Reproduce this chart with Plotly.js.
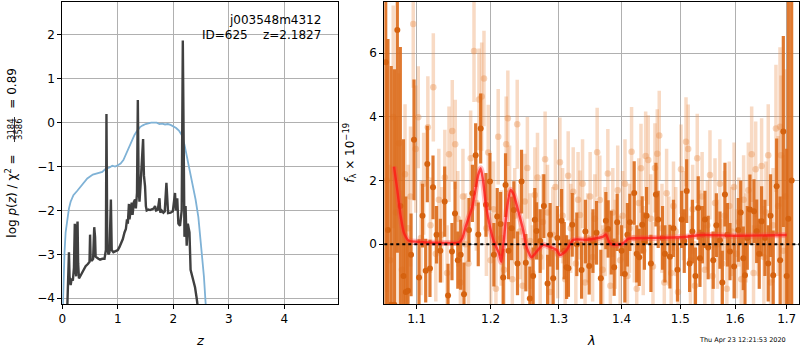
<!DOCTYPE html>
<html><head><meta charset="utf-8">
<script src="https://cdn.plot.ly/plotly-3.0.1.min.js"></script>
<style>html,body{margin:0;padding:0;background:#fff}#chart{width:800px;height:350px}</style>
</head><body><div id="chart"></div>
<script>
// ---- left panel: redshift probability curves ----
const priorZ = [0.01,0.02,0.04,0.06,0.09,0.12,0.15,0.2,0.27,0.35,0.45,0.55,0.65,0.72,0.78,0.85,0.9,0.95,1.0,1.05,1.1,1.15,1.2,1.25,1.3,1.35,1.4,1.45,1.5,1.6,1.7,1.75,1.8,1.85,1.9,1.95,2.0,2.05,2.1,2.15,2.2,2.25,2.3,2.35,2.4,2.45,2.5,2.55,2.58,2.6];
const priorLogP = [-4.2,-3.5,-2.95,-2.5,-2.15,-1.95,-1.8,-1.65,-1.55,-1.42,-1.27,-1.18,-1.15,-1.12,-1.05,-1.02,-0.98,-1.0,-0.97,-0.93,-0.85,-0.7,-0.55,-0.4,-0.28,-0.18,-0.1,-0.06,-0.03,0.0,0.0,-0.03,-0.02,-0.04,-0.03,-0.05,-0.08,-0.12,-0.18,-0.28,-0.5,-0.8,-1.12,-1.45,-1.75,-2.15,-2.75,-3.5,-4.1,-4.4];

const pzZ = [0.09,0.105,0.12,0.13,0.15,0.17,0.19,0.21,0.225,0.235,0.25,0.265,0.275,0.285,0.3,0.33,0.36,0.39,0.42,0.46,0.49,0.5,0.51,0.53,0.555,0.575,0.59,0.6,0.62,0.65,0.68,0.72,0.76,0.785,0.795,0.81,0.83,0.85,0.875,0.89,0.92,0.96,1.0,1.03,1.06,1.09,1.12,1.145,1.165,1.18,1.2,1.21,1.23,1.25,1.265,1.29,1.31,1.325,1.345,1.36,1.375,1.39,1.41,1.43,1.455,1.47,1.49,1.505,1.52,1.55,1.58,1.62,1.65,1.67,1.69,1.72,1.75,1.765,1.79,1.82,1.845,1.875,1.89,1.905,1.95,1.99,2.03,2.045,2.07,2.09,2.12,2.15,2.17,2.185,2.2,2.22,2.24,2.26,2.29,2.31,2.33,2.36,2.39,2.42,2.45];
const pzLogP = [-4.2,-3.6,-2.95,-3.5,-3.7,-3.55,-3.6,-3.3,-2.3,-3.3,-3.5,-2.4,-2.25,-3.2,-3.55,-3.48,-3.4,-3.33,-3.27,-3.22,-3.17,-2.55,-3.1,-3.15,-3.1,-2.38,-2.6,-3.05,-3.08,-3.1,-3.12,-3.1,-3.1,-2.9,0.2,-2.8,-3.0,-2.95,-1.75,-2.9,-2.95,-2.93,-2.9,-2.83,-2.75,-2.65,-2.5,-2.42,-2.2,-2.3,-1.85,-2.2,-2.0,-1.82,-2.1,-1.8,-1.75,-1.95,-1.6,0.52,-1.5,-1.8,-1.4,-1.0,-0.37,-1.2,-1.45,-1.9,-2.0,-1.98,-1.99,-1.97,-1.95,-1.9,-2.0,-1.98,-1.72,-2.05,-2.0,-2.05,-2.02,-1.37,-1.9,-2.06,-2.05,-2.02,-1.6,-2.0,-1.72,-2.3,-2.35,-2.0,1.87,-1.2,-2.6,-1.9,-2.8,-2.3,-2.5,-3.35,-3.45,-3.6,-3.75,-4.0,-4.3];

const zTicks = [0,1,2,3,4];
const logpTicks = [-4,-3,-2,-1,0,1,2];

// ---- right panel: spectrum (dark = primary grism, light = second set) ----
const gLam = [
 1.0606,1.0634,1.0675,1.0715,1.0752,1.0790,1.0830,1.0860,1.0888,1.0927,
 1.0965,1.1030,1.1075,1.1117,1.1138,1.1173,1.1213,1.1260,1.1310,1.1368,
 1.1413,1.1466,1.1507,1.1545,1.1584,1.1629,1.1697,1.1745,1.1790,1.1826,
 1.1860,1.1934,1.1990,1.2046,1.2093,1.2141,1.2178,1.2212,1.2255,1.2299,
 1.2332,1.2385,1.2444,1.2507,1.2566,1.2615,1.2640,1.2666,1.2720,1.2775,
 1.2831,1.2870,1.2916,1.2980,1.3045,1.3085,1.3122,1.3150,1.3209,1.3280,
 1.3355,1.3415,1.3475,1.3535,1.3592,1.3661,1.3742,1.3779,1.3830,1.3877,
 1.3926,1.3998,1.4052,1.4095,1.4136,1.4208,1.4250,1.4292,1.4342,1.4380,
 1.4417,1.4490,1.4576,1.4615,1.4690,1.4731,1.4818,1.4880,1.4950,1.5024,
 1.5070,1.5113,1.5165,1.5215,1.5270,1.5320,1.5351,1.5395,1.5441,1.5500,
 1.5593,1.5650,1.5716,1.5760,1.5809,1.5855,1.5903,1.5980,1.6059,1.6105,
 1.6154,1.6186,1.6230,1.6281,1.6358,1.6410,1.6460,1.6506,1.6570,1.6635,
 1.6680,1.6733,1.6801,1.6870,1.6933,1.7000,1.7034,1.7100];
const gFlux = [
 5.72,0.45,-1.9,-1.9,6.73,1.2,-1.0,-1.5,-1.46,-0.33,
 3.28,-1.04,0.9,-0.83,2.52,-0.76,1.79,0.3,-0.2,1.34,
 -1.61,-0.23,0.97,-0.5,-0.33,-1.57,0.45,1.6,2.8,0.31,
 3.64,1.24,1.97,-0.33,0.87,0.64,-1.04,1.86,-0.2,0.5,
 1.08,-0.6,1.97,-0.58,-1.7,-1.0,0.77,0.42,0.1,1.2,
 -1.23,0.3,-1.07,0.2,0.74,-0.2,-0.72,-0.75,0.61,0.0,
 -0.81,0.4,-0.68,0.1,0.36,-1.07,0.74,0.48,0.05,-0.72,
 0.69,-0.2,-0.93,0.3,0.69,1.61,-0.3,-0.41,0.61,0.1,
 0.9,-0.6,1.56,0.78,0.2,-0.3,-0.39,0.5,-0.8,0.78,
 0.1,1.67,-0.6,0.4,-1.0,1.14,-0.44,0.3,0.78,-0.1,
 -0.5,0.6,0.13,-1.2,1.56,0.3,-0.23,-0.7,0.45,1.0,
 -0.44,-0.97,0.2,1.09,1.04,0.41,-0.3,0.72,0.2,-0.6,
 0.9,-0.97,1.82,-0.5,3.54,-1.0,0.8,2.0];
const gErr = [
 9,6,7.5,7.4,7,5,4.3,3.0,1.6,1.3,
 1.9,1.2,1.0,1.0,1.2,0.9,1.0,0.9,1.0,1.1,
 1.0,0.9,1.0,0.9,1.1,1.0,1.0,0.9,1.0,1.0,
 1.1,1.0,0.9,1.0,0.9,1.0,0.9,1.0,0.9,1.0,
 0.9,1.0,1.0,0.9,1.0,0.9,1.0,0.9,1.0,1.0,
 0.9,1.0,0.9,1.0,1.0,0.9,1.0,0.9,1.0,1.0,
 0.9,1.0,0.9,1.0,1.0,0.9,0.9,0.9,1.0,0.9,
 0.9,0.8,0.9,1.0,0.9,1.0,0.9,0.9,0.9,0.9,
 0.9,0.9,1.0,0.9,1.0,0.9,1.0,0.9,1.0,0.9,
 1.0,1.0,0.9,1.0,0.9,1.0,0.9,0.9,0.9,1.0,
 0.9,1.0,0.9,1.0,1.0,1.0,0.9,1.0,1.0,1.0,
 1.0,1.0,1.0,1.1,1.0,1.0,1.1,1.1,1.2,1.2,
 1.3,1.4,1.5,2.0,3.0,4.0,7.0,8.0];

const lLam = [
 1.0620,1.0660,1.0700,1.0735,1.0773,1.0810,1.0850,1.0890,1.0920,1.0955,
 1.0987,1.1020,1.1055,1.1090,1.1145,1.1180,1.1217,1.1250,1.1290,1.1330,
 1.1370,1.1400,1.1426,1.1470,1.1510,1.1545,1.1580,1.1615,1.1650,1.1690,
 1.1721,1.1767,1.1800,1.1836,1.1874,1.1906,1.1940,1.1966,1.2000,1.2040,
 1.2075,1.2107,1.2150,1.2190,1.2221,1.2245,1.2270,1.2310,1.2345,1.2381,
 1.2420,1.2460,1.2492,1.2530,1.2570,1.2605,1.2640,1.2680,1.2720,1.2760,
 1.2794,1.2830,1.2870,1.2910,1.2950,1.2985,1.3019,1.3060,1.3100,1.3146,
 1.3185,1.3224,1.3265,1.3300,1.3329,1.3370,1.3410,1.3450,1.3490,1.3530,
 1.3565,1.3602,1.3645,1.3690,1.3730,1.3774,1.3815,1.3855,1.3895,1.3935,
 1.3975,1.4015,1.4055,1.4095,1.4130,1.4164,1.4210,1.4250,1.4285,1.4322,
 1.4360,1.4401,1.4445,1.4490,1.4525,1.4559,1.4599,1.4633,1.4680,1.4720,
 1.4760,1.4800,1.4840,1.4880,1.4920,1.4960,1.5012,1.5055,1.5101,1.5140,
 1.5180,1.5220,1.5260,1.5302,1.5345,1.5390,1.5440,1.5485,1.5533,1.5580,
 1.5625,1.5670,1.5715,1.5760,1.5800,1.5845,1.5890,1.5935,1.5980,1.6025,
 1.6070,1.6115,1.6160,1.6205,1.6250,1.6314,1.6350,1.6391,1.6440,1.6506,
 1.6550,1.6590,1.6635,1.6680,1.6730,1.6787,1.6830,1.6867,1.6887,1.6930,1.6970];
const lFlux = [
 2.0,-0.5,4.0,1.0,3.17,-0.8,2.2,0.5,1.5,6.92,
 2.99,3.99,0.2,1.9,3.68,0.6,4.93,-0.3,1.4,0.3,
 2.1,-0.9,2.83,3.56,3.14,0.8,-1.2,1.5,0.0,-0.6,
 2.7,6.07,1.3,4.55,4.64,5.21,0.5,2.88,-0.5,1.1,
 -1.4,3.38,0.2,-0.8,3.14,3.96,1.6,-1.1,0.9,3.77,
 0.4,-1.3,1.34,2.4,0.1,-0.9,1.55,2.1,-0.4,0.7,
 2.67,1.0,-1.5,0.3,1.8,-0.3,2.58,0.9,-1.1,2.15,
 0.5,1.65,-0.6,1.4,0.92,1.9,-1.2,0.2,1.5,-0.4,
 0.8,2.89,1.39,-0.8,0.4,2.22,-1.3,1.0,0.0,1.7,
 -0.5,0.9,1.9,-1.0,0.5,2.91,0.2,-1.4,1.3,2.39,
 -0.2,2.77,2.65,0.8,-0.7,2.4,2.84,3.42,0.5,-1.2,
 1.6,0.1,-0.9,1.2,0.4,-1.5,2.36,0.9,3.22,2.99,
 -0.5,1.1,-1.3,2.7,0.3,1.5,-0.8,0.6,2.18,-1.0,
 1.3,0.0,1.9,-0.6,0.9,-1.4,1.2,0.4,1.8,-0.3,
 0.7,-1.1,1.4,0.2,1.7,2.83,-0.9,2.36,0.5,2.46,
 -0.4,1.0,2.8,-1.2,0.6,3.64,1.2,3.69,2.8,-0.2,1.5];
const lErr = [
 3.5,3.0,3.5,3.0,2.2,2.5,2.2,2.0,2.2,2.0,
 2.0,1.6,1.8,1.6,1.6,1.5,1.7,1.5,1.6,1.5,
 1.5,1.5,1.5,1.6,1.4,1.5,1.5,1.5,1.6,1.5,
 1.5,1.6,1.5,1.6,1.7,1.5,1.5,1.5,1.5,1.5,
 1.5,1.5,1.5,1.5,1.5,1.5,1.5,1.5,1.5,1.4,
 1.5,1.5,1.5,1.6,1.5,1.5,1.5,1.4,1.5,1.5,
 1.5,1.5,1.4,1.5,1.5,1.4,1.4,1.5,1.4,1.4,
 1.4,1.4,1.4,1.5,1.4,1.4,1.4,1.4,1.4,1.4,
 1.4,1.4,1.4,1.4,1.4,1.4,1.4,1.4,1.4,1.4,
 1.4,1.4,1.4,1.4,1.4,1.4,1.4,1.4,1.4,1.4,
 1.4,1.4,1.4,1.4,1.4,1.4,1.4,1.4,1.4,1.4,
 1.4,1.4,1.4,1.4,1.4,1.4,1.4,1.4,1.4,1.4,
 1.4,1.4,1.4,1.4,1.4,1.4,1.4,1.4,1.4,1.4,
 1.4,1.4,1.4,1.4,1.4,1.4,1.4,1.4,1.4,1.4,
 1.4,1.4,1.4,1.4,1.5,1.5,1.5,1.5,1.5,1.5,
 1.6,1.6,1.6,1.7,1.8,2.0,2.2,2.5,2.5,3.0,4.0];

const modelLam = [1.0710,1.0752,1.0795,1.0837,1.0900,1.1007,1.1226,1.1561,1.1606,1.1652,1.1743,1.1826,1.1860,1.1892,1.1930,1.1990,1.2046,1.2117,1.2150,1.2188,1.2236,1.2285,1.2332,1.2405,1.2467,1.2517,1.2591,1.2666,1.2764,1.2865,1.2968,1.3019,1.3122,1.3225,1.3434,1.3592,1.3698,1.3742,1.3807,1.3917,1.4025,1.4108,1.4472,1.4995,1.5411,1.6029,1.7001];
const modelFlux = [2.44,1.7,0.87,0.35,0.11,0.08,0.05,0.06,0.19,0.55,1.18,2.18,2.39,2.02,1.29,0.55,0.08,-0.28,-0.55,0.14,1.18,1.71,1.55,0.97,0.45,-0.08,-0.41,-0.23,-0.02,-0.08,-0.18,-0.34,-0.18,0.14,0.14,0.19,0.24,0.31,0.03,-0.02,0.03,0.17,0.2,0.22,0.29,0.27,0.29];

const lamTicks = [1.1,1.2,1.3,1.4,1.5,1.6,1.7];
const fluxTicks = [0,2,4,6];

const FONT = 'DejaVu Sans, Arial, sans-serif';
const NB = '\u00a0';

const traces = [
  {x: priorZ, y: priorLogP, xaxis:'x', yaxis:'y', mode:'lines', line:{color:'#7fb2d6', width:1.8}, hoverinfo:'skip'},
  {x: pzZ, y: pzLogP, xaxis:'x', yaxis:'y', mode:'lines', line:{color:'#404040', width:2.4}, hoverinfo:'skip'},
  {x: lLam, y: lFlux, xaxis:'x2', yaxis:'y2', mode:'markers',
   marker:{size:6.5, color:'rgba(232,140,70,0.38)'},
   error_y:{type:'data', array:lErr, visible:true, thickness:3.5, width:0, color:'rgba(232,140,70,0.32)'}},
  {x: gLam, y: gFlux, xaxis:'x2', yaxis:'y2', mode:'markers',
   marker:{size:6, color:'#d5620f'},
   error_y:{type:'data', array:gErr, visible:true, thickness:3.2, width:0, color:'rgba(219,106,26,0.9)'}},
  {x: modelLam, y: modelFlux, xaxis:'x2', yaxis:'y2', mode:'lines', line:{color:'rgba(255,70,70,0.35)', width:6, shape:'spline', smoothing:0.6}},
  {x: modelLam, y: modelFlux, xaxis:'x2', yaxis:'y2', mode:'lines', line:{color:'rgba(255,20,20,0.75)', width:2.4, shape:'spline', smoothing:0.6}}
];

const axBase = {showline:true, mirror:true, linecolor:'#000', linewidth:1, ticks:'outside', ticklen:4, tickcolor:'#000',
  showgrid:true, gridcolor:'#b0b0b0', gridwidth:1, zeroline:false, automargin:false,
  tickfont:{family:FONT, size:12, color:'#000'}, fixedrange:true};

const layout = {
  width:800, height:350, margin:{l:0,r:0,t:0,b:0}, paper_bgcolor:'#fff', plot_bgcolor:'#fff',
  showlegend:false, font:{family:FONT, size:12, color:'#000'},
  xaxis: Object.assign({}, axBase, {domain:[62.3/800, 338.3/800], range:[0,4.97], tickvals:zTicks, anchor:'y'}),
  yaxis: Object.assign({}, axBase, {domain:[46/350, 348.3/350], range:[-4.13,2.757], tickvals:logpTicks, anchor:'x',
    title:{text:'log <i>p</i>(<i>z</i>) / χ<sup>2</sup> =' + NB.repeat(12) + '= 0.89', font:{family:FONT, size:12, color:'#000'}, standoff:17}}),
  xaxis2: Object.assign({}, axBase, {domain:[384.3/800, 799.3/800], type:'log', range:[0.02483,0.2369], tickvals:lamTicks, ticktext:lamTicks.map(v=>v.toFixed(1)), anchor:'y2'}),
  yaxis2: Object.assign({}, axBase, {domain:[46/350, 348.3/350], range:[-1.876,7.62], tickvals:fluxTicks, anchor:'x2',
    title:{text:'<i>f</i><sub>λ</sub> × 10<sup>−19</sup>', font:{family:FONT, size:12, color:'#000'}, standoff:12}}),
  shapes: [
    {type:'line', xref:'x2 domain', yref:'y2', x0:0, x1:1, y0:0, y1:0, line:{color:'#000', width:2, dash:'dot'}},
    {type:'line', xref:'paper', yref:'paper', x0:14.5/800, x1:14.5/800, y0:1-117/350, y1:1-142/350, line:{color:'#000', width:0.8}}
  ],
  annotations: [
    {xref:'paper', yref:'paper', x:323/800, y:1-20/350, xanchor:'right', yanchor:'middle', showarrow:false, text:'j003548m4312', font:{size:12}},
    {xref:'paper', yref:'paper', x:323/800, y:1-35/350, xanchor:'right', yanchor:'middle', showarrow:false, text:'ID=625'+NB+NB+NB+NB+'z=2.1827', font:{size:12}},
    {xref:'paper', yref:'paper', x:200/800, y:1-340/350, xanchor:'center', yanchor:'middle', showarrow:false, text:'<i>z</i>', font:{size:13}},
    {xref:'paper', yref:'paper', x:591/800, y:1-340/350, xanchor:'center', yanchor:'middle', showarrow:false, text:'<i>λ</i>', font:{size:13}},
    {xref:'paper', yref:'paper', x:10.5/800, y:1-129.5/350, xanchor:'center', yanchor:'middle', showarrow:false, textangle:-90, text:'3184', font:{size:8.5}},
    {xref:'paper', yref:'paper', x:18.5/800, y:1-129.5/350, xanchor:'center', yanchor:'middle', showarrow:false, textangle:-90, text:'3586', font:{size:8.5}},
    {xref:'paper', yref:'paper', x:788/800, y:1-340/350, xanchor:'right', yanchor:'middle', showarrow:false, text:'Thu Apr 23 12:21:53 2020', font:{size:6.5}}
  ]
};

Plotly.newPlot('chart', traces, layout, {staticPlot:true, displayModeBar:false});
</script>
</body></html>
